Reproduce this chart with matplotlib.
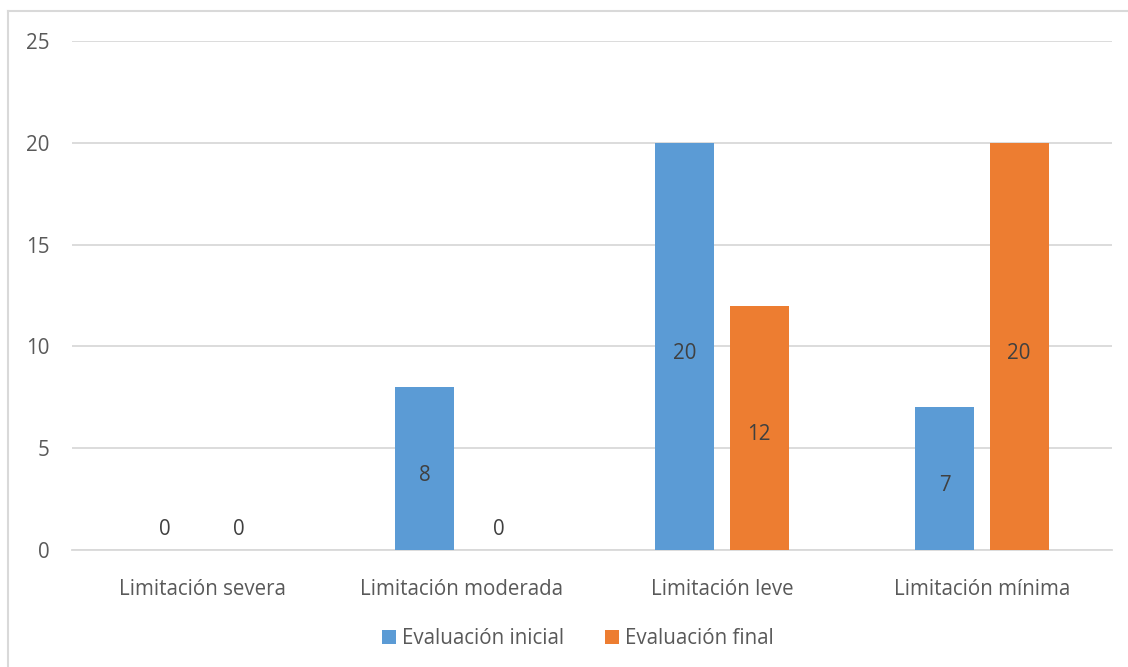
import matplotlib
matplotlib.use("Agg")
import matplotlib.pyplot as plt
from matplotlib.lines import Line2D
from matplotlib.patches import Patch
import numpy as np

plt.rcParams['font.family'] = ['Open Sans', 'DejaVu Sans']

categories = ["Limitación severa", "Limitación moderada", "Limitación leve", "Limitación mínima"]
series_names = ["Evaluación inicial", "Evaluación final"]
inicial = [0, 8, 20, 7]
final = [0, 0, 12, 20]
yticks = [0, 5, 10, 15, 20, 25]

blue = "#5B9BD5"
orange = "#ED7D31"
text_col = "#595959"
label_col = "#404040"
grid_col = "#D9D9D9"
fs = 14.8

W, H = 1128, 667
fig = plt.figure(figsize=(W / 100, H / 100), dpi=100)
ax = fig.add_axes([72 / W, 117 / H, (1112 - 72) / W, (550 - 41) / H])

x = np.arange(len(categories))
width = 0.227
offset = 0.143
bars1 = ax.bar(x - offset, inicial, width, color=blue, zorder=3)
bars2 = ax.bar(x + offset, final, width, color=orange, zorder=3)

for bars, vals in ((bars1, inicial), (bars2, final)):
    for b, v in zip(bars, vals):
        cx = b.get_x() + b.get_width() / 2
        if v == 0:
            ax.annotate(str(v), (cx, 0), xytext=(0, 15), textcoords="offset points",
                        ha="center", va="center", fontsize=fs, color=label_col)
        else:
            ax.annotate(str(v), (cx, v / 2), xytext=(0, -5), textcoords="offset points",
                        ha="center", va="center", fontsize=fs, color=label_col, zorder=4)

ax.set_xlim(-0.5, len(categories) - 0.5)
ax.set_ylim(0, 25)
ax.set_yticks(yticks)
ax.yaxis.grid(True, color=grid_col, linewidth=1.3, zorder=0)
ax.set_axisbelow(True)
for s in ("top", "right", "left"):
    ax.spines[s].set_visible(False)
ax.spines["bottom"].set_color(grid_col)
ax.spines["bottom"].set_linewidth(1.3)
ax.tick_params(axis="both", length=0, labelsize=fs, labelcolor=text_col)
ax.tick_params(axis="y", pad=16)
ax.tick_params(axis="x", pad=21)
ax.set_xticks(x)
ax.set_xticklabels(categories)

# chart area border (top and left edges)
fig.add_artist(Line2D([8 / W, 8 / W], [0, 1 - 11 / H], transform=fig.transFigure,
                      color=grid_col, linewidth=1.5))
fig.add_artist(Line2D([8 / W, 1], [1 - 11 / H, 1 - 11 / H], transform=fig.transFigure,
                      color=grid_col, linewidth=1.5))

handles = [Patch(facecolor=blue), Patch(facecolor=orange)]
fig.legend(handles, series_names, loc="center", bbox_to_anchor=(578 / W, 1 - 639 / H),
           ncol=2, frameon=False, fontsize=fs, labelcolor=text_col,
           handlelength=0.65, handleheight=0.65, handletextpad=0.3, columnspacing=2.0)

fig.savefig("out.png", dpi=100, facecolor="white")
